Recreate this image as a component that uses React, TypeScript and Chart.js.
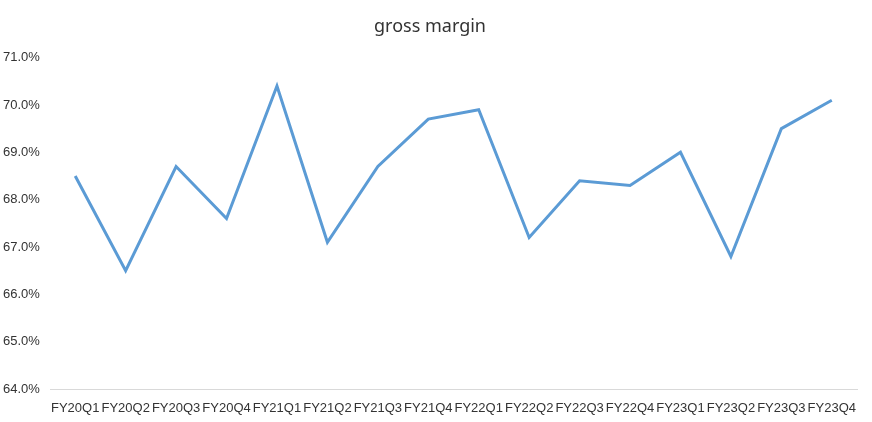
import React, { useEffect, useRef } from "react";
import { Chart, registerables } from "chart.js";

Chart.register(...registerables);

const categories = [
  "FY20Q1", "FY20Q2", "FY20Q3", "FY20Q4",
  "FY21Q1", "FY21Q2", "FY21Q3", "FY21Q4",
  "FY22Q1", "FY22Q2", "FY22Q3", "FY22Q4",
  "FY23Q1", "FY23Q2", "FY23Q3", "FY23Q4",
];
const grossMargin = [
  68.5, 66.5, 68.7, 67.6,
  70.4, 67.1, 68.7, 69.7,
  69.9, 67.2, 68.4, 68.3,
  69.0, 66.8, 69.5, 70.1,
];
const yMin = 64;
const yMax = 71;
const titleText = "gross margin";

export default function App() {
  const ref = useRef<HTMLCanvasElement>(null);
  useEffect(() => {
    document.body.style.margin = "0";
    const ctx = ref.current!;
    const chart = new Chart(ctx, {
      type: "line",
      data: {
        labels: categories,
        datasets: [
          {
            label: titleText,
            data: grossMargin,
            borderColor: "#5B9BD5",
            backgroundColor: "#5B9BD5",
            borderWidth: 3,
            pointRadius: 0,
            tension: 0,
          },
        ],
      },
      options: {
        animation: false,
        responsive: false,
        maintainAspectRatio: false,
        layout: { padding: { left: 3, right: 15, top: 0, bottom: 0 } },
        plugins: {
          legend: { display: false },
          tooltip: { enabled: false },
          title: {
            display: true,
            text: titleText,
            color: "#333333",
            font: { family: "'Noto Sans', sans-serif", size: 18, weight: "normal" },
            padding: { top: 16, bottom: 20 },
          },
        },
        scales: {
          x: {
            offset: true,
            grid: { display: false, drawTicks: false },
            border: { display: true, color: "#d9d9d9", width: 1 },
            ticks: {
              autoSkip: false,
              maxRotation: 0,
              minRotation: 0,
              color: "#333333",
              padding: 12,
              font: { family: "'Liberation Sans', Arial, sans-serif", size: 13 },
            },
            afterFit: (s: any) => { s.height = 33; },
          },
          y: {
            min: yMin,
            max: yMax,
            grid: { display: false, drawTicks: false },
            border: { display: false },
            ticks: {
              stepSize: 1,
              crossAlign: "far",
              color: "#333333",
              font: { family: "'Liberation Sans', Arial, sans-serif", size: 13 },
              callback: (v: any) => Number(v).toFixed(1) + "%",
            },
            afterFit: (s: any) => { s.width = 47; },
          },
        },
      },
    });
    return () => chart.destroy();
  }, []);
  return (
    <div style={{ width: 872, height: 422 }}>
      <canvas ref={ref} width={872} height={422} style={{ display: "block" }} />
    </div>
  );
}
